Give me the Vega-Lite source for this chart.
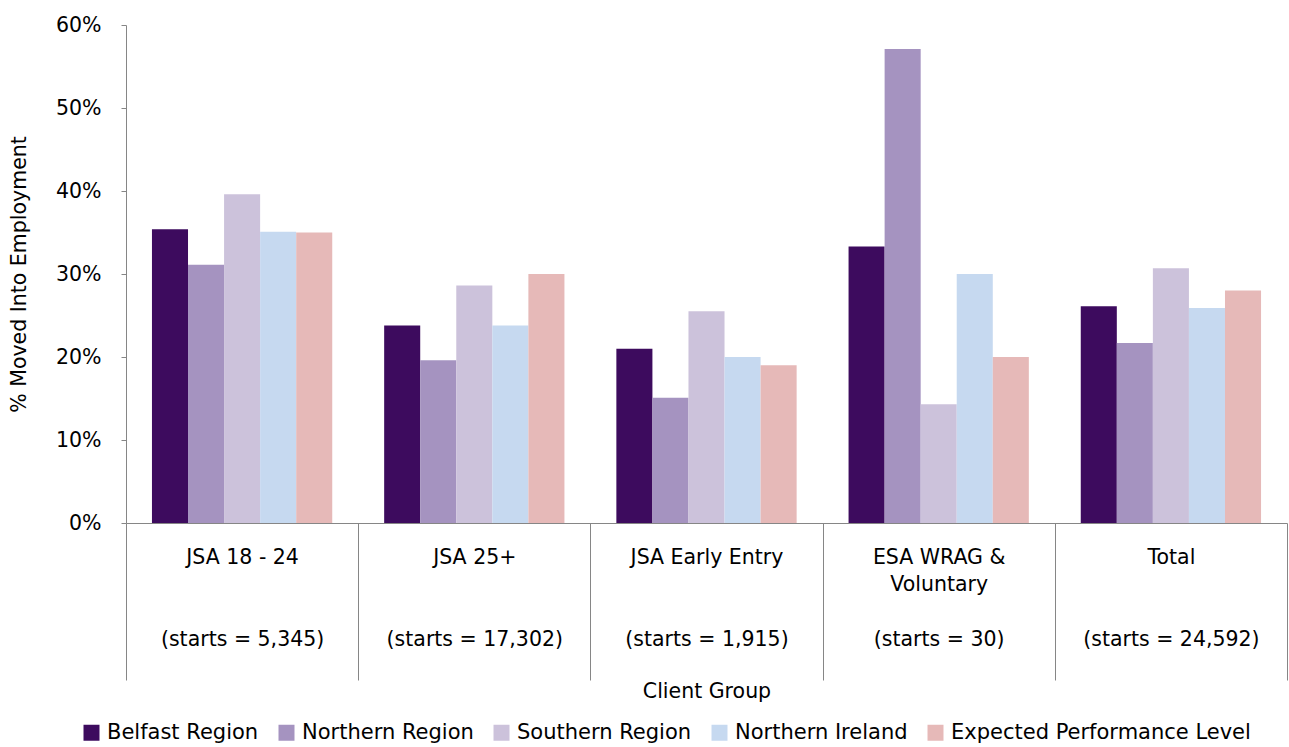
{
  "$schema": "https://vega.github.io/schema/vega-lite/v6.json",
  "width": 1161,
  "height": 498,
  "autosize": "none",
  "padding": {"left": 126, "top": 25, "right": 2, "bottom": 224},
  "background": "white",
  "config": {
    "view": {"stroke": null},
    "font": "DejaVu Sans",
    "axis": {
      "domainColor": "#868686",
      "tickColor": "#868686",
      "labelColor": "#000000",
      "titleColor": "#000000",
      "labelFont": "DejaVu Sans",
      "titleFont": "DejaVu Sans",
      "labelFontSize": 20.5,
      "titleFontSize": 20.5,
      "titleFontWeight": "normal",
      "grid": false
    },
    "legend": {
      "labelFont": "DejaVu Sans",
      "labelFontSize": 21,
      "labelColor": "#000000"
    }
  },
  "data": {
    "values": [
      {"group": "JSA 18 - 24|\u200b|\u200b|(starts = 5,345)", "series": "Belfast Region", "value": 0.354},
      {"group": "JSA 18 - 24|\u200b|\u200b|(starts = 5,345)", "series": "Northern Region", "value": 0.311},
      {"group": "JSA 18 - 24|\u200b|\u200b|(starts = 5,345)", "series": "Southern Region", "value": 0.396},
      {"group": "JSA 18 - 24|\u200b|\u200b|(starts = 5,345)", "series": "Northern Ireland", "value": 0.351},
      {"group": "JSA 18 - 24|\u200b|\u200b|(starts = 5,345)", "series": "Expected Performance Level", "value": 0.35},
      {"group": "JSA 25+|\u200b|\u200b|(starts = 17,302)", "series": "Belfast Region", "value": 0.238},
      {"group": "JSA 25+|\u200b|\u200b|(starts = 17,302)", "series": "Northern Region", "value": 0.196},
      {"group": "JSA 25+|\u200b|\u200b|(starts = 17,302)", "series": "Southern Region", "value": 0.286},
      {"group": "JSA 25+|\u200b|\u200b|(starts = 17,302)", "series": "Northern Ireland", "value": 0.238},
      {"group": "JSA 25+|\u200b|\u200b|(starts = 17,302)", "series": "Expected Performance Level", "value": 0.30},
      {"group": "JSA Early Entry|\u200b|\u200b|(starts = 1,915)", "series": "Belfast Region", "value": 0.210},
      {"group": "JSA Early Entry|\u200b|\u200b|(starts = 1,915)", "series": "Northern Region", "value": 0.151},
      {"group": "JSA Early Entry|\u200b|\u200b|(starts = 1,915)", "series": "Southern Region", "value": 0.255},
      {"group": "JSA Early Entry|\u200b|\u200b|(starts = 1,915)", "series": "Northern Ireland", "value": 0.200},
      {"group": "JSA Early Entry|\u200b|\u200b|(starts = 1,915)", "series": "Expected Performance Level", "value": 0.19},
      {"group": "ESA WRAG &|Voluntary|\u200b|(starts = 30)", "series": "Belfast Region", "value": 0.333},
      {"group": "ESA WRAG &|Voluntary|\u200b|(starts = 30)", "series": "Northern Region", "value": 0.571},
      {"group": "ESA WRAG &|Voluntary|\u200b|(starts = 30)", "series": "Southern Region", "value": 0.143},
      {"group": "ESA WRAG &|Voluntary|\u200b|(starts = 30)", "series": "Northern Ireland", "value": 0.300},
      {"group": "ESA WRAG &|Voluntary|\u200b|(starts = 30)", "series": "Expected Performance Level", "value": 0.20},
      {"group": "Total|\u200b|\u200b|(starts = 24,592)", "series": "Belfast Region", "value": 0.261},
      {"group": "Total|\u200b|\u200b|(starts = 24,592)", "series": "Northern Region", "value": 0.217},
      {"group": "Total|\u200b|\u200b|(starts = 24,592)", "series": "Southern Region", "value": 0.307},
      {"group": "Total|\u200b|\u200b|(starts = 24,592)", "series": "Northern Ireland", "value": 0.259},
      {"group": "Total|\u200b|\u200b|(starts = 24,592)", "series": "Expected Performance Level", "value": 0.28}
    ]
  },
  "mark": {"type": "bar"},
  "encoding": {
    "x": {
      "field": "group",
      "type": "nominal",
      "sort": ["JSA 18 - 24|\u200b|\u200b|(starts = 5,345)", "JSA 25+|\u200b|\u200b|(starts = 17,302)", "JSA Early Entry|\u200b|\u200b|(starts = 1,915)", "ESA WRAG &|Voluntary|\u200b|(starts = 30)", "Total|\u200b|\u200b|(starts = 24,592)"],
      "scale": {"paddingInner": 0, "paddingOuter": 0},
      "axis": {
        "title": "Client Group",
        "labelAngle": 0,
        "tickBand": "extent",
        "tickSize": 157,
        "labelPadding": -133,
        "labelBaseline": "top",
        "labelExpr": "split(datum.label, '|')",
        "labelLineHeight": 27.5,
        "labelLimit": 300,
        "labelOverlap": false,
        "titlePadding": 1
      }
    },
    "xOffset": {
      "field": "series",
      "sort": ["Belfast Region", "Northern Region", "Southern Region", "Northern Ireland", "Expected Performance Level"],
      "scale": {"paddingOuter": 0.72, "paddingInner": 0}
    },
    "y": {
      "field": "value",
      "type": "quantitative",
      "scale": {"domain": [0, 0.6]},
      "axis": {
        "format": ".0%",
        "values": [0, 0.1, 0.2, 0.3, 0.4, 0.5, 0.6],
        "title": "% Moved Into Employment",
        "tickSize": 5,
        "labelPadding": 20,
        "titlePadding": 26
      }
    },
    "color": {
      "field": "series",
      "sort": ["Belfast Region", "Northern Region", "Southern Region", "Northern Ireland", "Expected Performance Level"],
      "scale": {
        "domain": ["Belfast Region", "Northern Region", "Southern Region", "Northern Ireland", "Expected Performance Level"],
        "range": ["#3D0B5E", "#A593C0", "#CCC2DB", "#C6D9F0", "#E6B9B8"]
      },
      "legend": {
        "orient": "none",
        "legendX": -45,
        "legendY": 697,
        "title": null,
        "direction": "horizontal",
        "symbolType": "square",
        "symbolSize": 256,
        "symbolStrokeWidth": 0,
        "labelLimit": 400,
        "columnPadding": 17,
        "labelOffset": 5
      }
    }
  }
}
